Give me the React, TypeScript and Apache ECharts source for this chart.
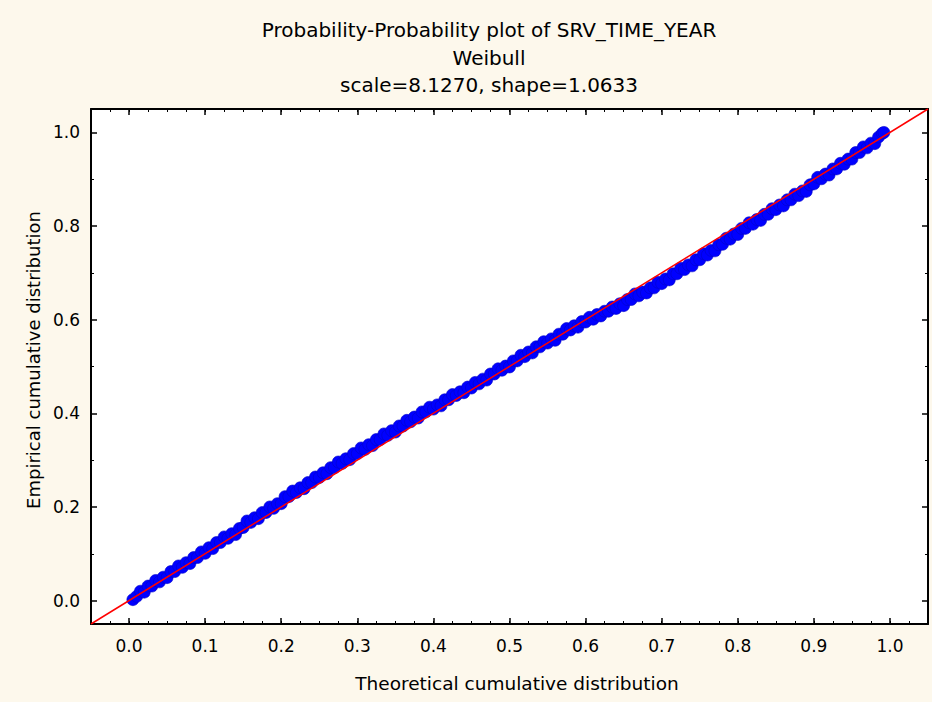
import React, { useEffect, useRef } from "react";
import * as echarts from "echarts";

const titleLines = [
  "Probability-Probability plot of SRV_TIME_YEAR",
  "Weibull",
  "scale=8.1270, shape=1.0633",
];
const xAxisName = "Theoretical cumulative distribution";
const yAxisName = "Empirical cumulative distribution";

const theoretical = [
  0.005, 0.01, 0.015, 0.02, 0.025, 0.03, 0.035, 0.04, 0.045, 0.05,
  0.055, 0.06, 0.065, 0.07, 0.075, 0.08, 0.085, 0.09, 0.095, 0.1,
  0.105, 0.11, 0.115, 0.12, 0.125, 0.13, 0.135, 0.14, 0.145, 0.15,
  0.155, 0.16, 0.165, 0.17, 0.175, 0.18, 0.185, 0.19, 0.195, 0.2,
  0.205, 0.21, 0.215, 0.22, 0.225, 0.23, 0.235, 0.24, 0.245, 0.25,
  0.255, 0.26, 0.265, 0.27, 0.275, 0.28, 0.285, 0.29, 0.295, 0.3,
  0.305, 0.31, 0.315, 0.32, 0.325, 0.33, 0.335, 0.34, 0.345, 0.35,
  0.355, 0.36, 0.365, 0.37, 0.375, 0.38, 0.385, 0.39, 0.395, 0.4,
  0.405, 0.41, 0.415, 0.42, 0.425, 0.43, 0.435, 0.44, 0.445, 0.45,
  0.455, 0.46, 0.465, 0.47, 0.475, 0.48, 0.485, 0.49, 0.495, 0.5,
  0.505, 0.51, 0.515, 0.52, 0.525, 0.53, 0.535, 0.54, 0.545, 0.55,
  0.555, 0.56, 0.565, 0.57, 0.575, 0.58, 0.585, 0.59, 0.595, 0.6,
  0.605, 0.61, 0.615, 0.62, 0.625, 0.63, 0.635, 0.64, 0.645, 0.65,
  0.655, 0.66, 0.665, 0.67, 0.675, 0.68, 0.685, 0.69, 0.695, 0.7,
  0.705, 0.71, 0.715, 0.72, 0.725, 0.73, 0.735, 0.74, 0.745, 0.75,
  0.755, 0.76, 0.765, 0.77, 0.775, 0.78, 0.785, 0.79, 0.795, 0.8,
  0.805, 0.81, 0.815, 0.82, 0.825, 0.83, 0.835, 0.84, 0.845, 0.85,
  0.855, 0.86, 0.865, 0.87, 0.875, 0.88, 0.885, 0.89, 0.895, 0.9,
  0.905, 0.91, 0.915, 0.92, 0.925, 0.93, 0.935, 0.94, 0.945, 0.95,
  0.955, 0.96, 0.965, 0.97, 0.975, 0.98, 0.985, 0.99, 0.992,
];

const empirical = [
  0.002, 0.009, 0.02, 0.018, 0.031, 0.031, 0.043, 0.04, 0.05, 0.049,
  0.062, 0.062, 0.074, 0.071, 0.081, 0.079, 0.092, 0.092, 0.104, 0.101,
  0.113, 0.111, 0.124, 0.124, 0.136, 0.133, 0.143, 0.141, 0.154, 0.156,
  0.17, 0.167, 0.177, 0.175, 0.188, 0.188, 0.2, 0.197, 0.207, 0.207,
  0.222, 0.222, 0.234, 0.231, 0.241, 0.239, 0.252, 0.252, 0.264, 0.263,
  0.273, 0.271, 0.284, 0.284, 0.296, 0.293, 0.303, 0.301, 0.314, 0.314,
  0.326, 0.323, 0.333, 0.331, 0.344, 0.344, 0.356, 0.353, 0.363, 0.36,
  0.373, 0.373, 0.385, 0.382, 0.392, 0.39, 0.403, 0.403, 0.413, 0.409,
  0.418, 0.416, 0.429, 0.429, 0.44, 0.438, 0.446, 0.444, 0.456, 0.454,
  0.466, 0.463, 0.473, 0.471, 0.484, 0.484, 0.495, 0.492, 0.501, 0.499,
  0.512, 0.512, 0.524, 0.521, 0.531, 0.529, 0.542, 0.542, 0.553, 0.55,
  0.559, 0.556, 0.569, 0.569, 0.581, 0.578, 0.587, 0.584, 0.596, 0.595,
  0.605, 0.601, 0.611, 0.608, 0.618, 0.618, 0.627, 0.624, 0.634, 0.63,
  0.643, 0.643, 0.655, 0.651, 0.659, 0.657, 0.668, 0.668, 0.68, 0.677,
  0.687, 0.685, 0.698, 0.698, 0.71, 0.707, 0.717, 0.715, 0.728, 0.728,
  0.741, 0.738, 0.748, 0.747, 0.76, 0.761, 0.774, 0.772, 0.783, 0.782,
  0.795, 0.795, 0.807, 0.804, 0.814, 0.812, 0.825, 0.825, 0.837, 0.835,
  0.845, 0.843, 0.856, 0.856, 0.868, 0.865, 0.875, 0.874, 0.888, 0.89,
  0.904, 0.901, 0.911, 0.909, 0.922, 0.922, 0.934, 0.932, 0.943, 0.943,
  0.957, 0.957, 0.969, 0.967, 0.977, 0.976, 0.99, 0.998, 1.0,
];

const axisRange = [-0.05, 1.05];
const refLine = [-0.05, 1.05];

const FONT = "'DejaVu Sans', Verdana, sans-serif";
const BG = "#FDF8EC";

export default function App() {
  const ref = useRef<HTMLDivElement>(null);

  useEffect(() => {
    if (!ref.current) return;
    const chart = echarts.init(ref.current, undefined, { renderer: "svg" });

    const W = 932;
    const H = 702;
    const gl = 91, gr = 4, gt = 109, gb = 78;
    const pw = W - gl - gr;
    const ph = H - gt - gb;
    const span = axisRange[1] - axisRange[0];
    const ox = (0 - axisRange[0]) / span * pw;
    const oy = (0 - axisRange[0]) / span * ph;

    const points = theoretical.map((t, i) => [t, empirical[i]]);

    const labelStyle = { color: "#000", fontFamily: FONT, fontSize: 17 };
    const frameLine = { show: true, onZero: false, lineStyle: { color: "#000", width: 2 } };

    chart.setOption({
      animation: false,
      backgroundColor: BG,
      grid: [
        { left: gl, right: gr, top: gt, bottom: gb, show: true, backgroundColor: "#FFFFFF", borderWidth: 0 },
        { left: gl + ox, right: gr + ox, top: gt, bottom: gb, show: false },
        { left: gl, right: gr, top: gt + oy, bottom: gb + oy, show: false },
      ],
      xAxis: [
        {
          gridIndex: 0, type: "value", position: "bottom", min: axisRange[0], max: axisRange[1], interval: 0.025,
          axisLine: frameLine,
          axisTick: { show: true, inside: true, length: 3, lineStyle: { color: "#000", width: 1 } },
          axisLabel: { show: false }, splitLine: { show: false },
        },
        {
          gridIndex: 0, type: "value", position: "top", min: axisRange[0], max: axisRange[1], interval: 0.025,
          axisLine: frameLine,
          axisTick: { show: true, inside: true, length: 3, lineStyle: { color: "#000", width: 1 } },
          axisLabel: { show: false }, splitLine: { show: false },
        },
        {
          gridIndex: 1, type: "value", position: "bottom", min: 0, max: 1, interval: 0.1,
          axisLine: { show: false, onZero: false },
          axisTick: { show: true, inside: true, length: 6, lineStyle: { color: "#000", width: 1.5 } },
          axisLabel: { show: true, margin: 13, ...labelStyle, formatter: (v: number) => v.toFixed(1) },
          splitLine: { show: false },
        },
        {
          gridIndex: 1, type: "value", position: "top", min: 0, max: 1, interval: 0.1,
          axisLine: { show: false, onZero: false },
          axisTick: { show: true, inside: true, length: 6, lineStyle: { color: "#000", width: 1.5 } },
          axisLabel: { show: false }, splitLine: { show: false },
        },
        {
          gridIndex: 2, type: "value", min: 0, max: 1, show: false,
        },
      ],
      yAxis: [
        {
          gridIndex: 0, type: "value", position: "left", min: axisRange[0], max: axisRange[1],
          axisLine: frameLine,
          axisTick: { show: false }, axisLabel: { show: false }, splitLine: { show: false },
        },
        {
          gridIndex: 0, type: "value", position: "right", min: axisRange[0], max: axisRange[1],
          axisLine: frameLine,
          axisTick: { show: false }, axisLabel: { show: false }, splitLine: { show: false },
        },
        {
          gridIndex: 1, type: "value", min: 0, max: 1, show: false,
        },
        {
          gridIndex: 2, type: "value", position: "left", min: 0, max: 1, interval: 0.2,
          axisLine: { show: false, onZero: false },
          axisTick: { show: true, inside: true, length: 6, lineStyle: { color: "#000", width: 1.5 } },
          minorTick: { show: true, splitNumber: 2, length: 3, lineStyle: { color: "#000", width: 1 } },
          axisLabel: { show: true, margin: 11, ...labelStyle, formatter: (v: number) => v.toFixed(1) },
          splitLine: { show: false },
        },
        {
          gridIndex: 2, type: "value", position: "right", min: 0, max: 1, interval: 0.2,
          axisLine: { show: false, onZero: false },
          axisTick: { show: true, inside: true, length: 6, lineStyle: { color: "#000", width: 1.5 } },
          minorTick: { show: true, splitNumber: 2, length: 3, lineStyle: { color: "#000", width: 1 } },
          axisLabel: { show: false }, splitLine: { show: false },
        },
      ],
      series: [
        {
          type: "scatter",
          xAxisIndex: 0,
          yAxisIndex: 0,
          data: points,
          symbol: "circle",
          symbolSize: 12,
          itemStyle: { color: "#0000FF", borderColor: "#0000C8", borderWidth: 0.6, opacity: 1 },
          z: 2,
          silent: true,
        },
        {
          type: "line",
          xAxisIndex: 0,
          yAxisIndex: 0,
          data: [[refLine[0], refLine[0]], [refLine[1], refLine[1]]],
          symbol: "none",
          lineStyle: { color: "#FF0000", width: 1.5 },
          z: 3,
          silent: true,
        },
      ],
      graphic: [
        ...titleLines.map((t, i) => ({
          type: "text",
          x: 489,
          y: 30 + i * 27.5,
          style: { text: t, fill: "#000", font: `20px ${FONT}`, textAlign: "center", textVerticalAlign: "middle" },
          silent: true,
        })),
        {
          type: "text",
          x: 517,
          y: 683,
          style: { text: xAxisName, fill: "#000", font: `18.5px ${FONT}`, textAlign: "center", textVerticalAlign: "middle" },
          silent: true,
        },
        {
          type: "text",
          x: 33,
          y: 360,
          rotation: Math.PI / 2,
          style: { text: yAxisName, fill: "#000", font: `18px ${FONT}`, textAlign: "center", textVerticalAlign: "middle" },
          silent: true,
        },
      ],
    });

    return () => chart.dispose();
  }, []);

  return (
    <div
      ref={ref}
      style={{ position: "fixed", left: 0, top: 0, width: 932, height: 702, background: BG }}
    />
  );
}
